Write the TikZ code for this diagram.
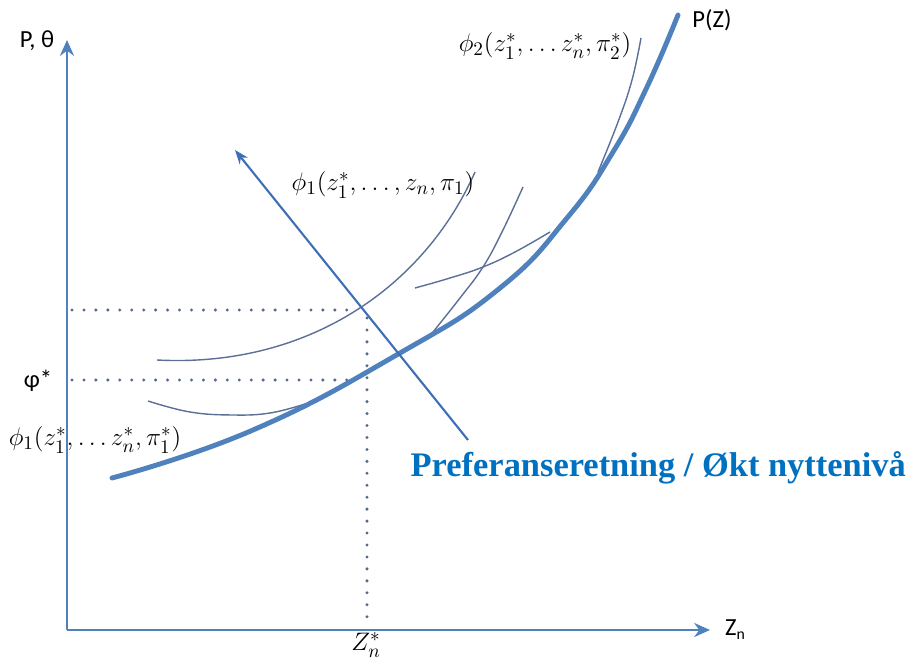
\documentclass[tikz,border=0pt]{standalone}
\usepackage{fontspec}
\usepackage{amsmath}
\usetikzlibrary{arrows.meta}
\newfontfamily\calibri{Carlito}
\newfontfamily\cambria{Liberation Serif}
\definecolor{axisblue}{HTML}{4F81BD}
\definecolor{curvegray}{HTML}{5B6F98}
\definecolor{dotgray}{HTML}{56698C}
\definecolor{prefblue}{HTML}{0070C0}
\definecolor{arrowblue}{HTML}{3E6FB6}

\begin{document}
\begin{tikzpicture}[x=0.02cm, y=-0.02cm, thick,
    axis/.style = {draw=axisblue, line width=1.6pt, -{Stealth[length=9pt, width=8pt]}},
    budget/.style = {draw=axisblue, line width=2.8pt, line cap=round},
    indiff/.style = {draw=curvegray, line width=0.8pt},
    guide/.style = {draw=dotgray, line width=1.9pt, line cap=round, dash pattern=on 0pt off 6.8pt},
    pref/.style = {draw=arrowblue, line width=1.2pt, -{Stealth[length=8pt, width=6pt]}},
    lbl/.style = {font=\calibri\fontsize{14}{16}\selectfont, inner sep=0pt},
    fn/.style = {font=\fontsize{15}{18}\selectfont, inner sep=0pt}]
    \useasboundingbox (0,0) rectangle (907,666);
    % axes
    \coordinate (O) at (67,630);
    \coordinate (ytip) at (67,40);
    \coordinate (xtip) at (710,630);
    \draw[axis] (O) -- (ytip);
    \draw[axis] (O) -- (xtip);
    \node[lbl] (ylab) at (37,41) {P, θ};
    \node[lbl] (xlab) at (735,630) {Z\raisebox{-0.35ex}{\fontsize{9}{10}\selectfont n}};
    % dotted guides
    \coordinate (h1) at (72,310);
    \coordinate (h1e) at (358,310);
    \coordinate (h2) at (72,380);
    \coordinate (h2e) at (352,380);
    \coordinate (v1) at (367,318);
    \coordinate (v1e) at (367,626);
    \draw[guide] (h1) -- (h1e);
    \draw[guide] (h2) -- (h2e);
    \draw[guide] (v1) -- (v1e);
    % indifference curves
    \draw[indiff] plot[smooth, tension=0.7] coordinates {(148,401) (190,412) (233,415) (270,413) (305,404)};
    \draw[indiff] (157,360) .. controls (310,368) and (425,285) .. (475,172);
    \draw[indiff] plot[smooth, tension=0.7] coordinates {(415,288) (450,278) (483,267) (515,252) (550,232)};
    \draw[indiff] plot[smooth, tension=0.7] coordinates {(433,332) (460,298) (483,267) (502,232) (523,187)};
    \draw[indiff] plot[smooth, tension=0.7] coordinates {(598,172) (618,122) (632,80) (641,38)};
    % budget curve
    \draw[budget] plot[smooth, tension=0.8] coordinates {(112,478) (253,430) (400,353) (500,288) (567,218) (613,152) (647,87) (678,15)};
    \node[lbl] (pz) at (712,20) {P(Z)};
    % preference arrow
    \coordinate (aS) at (468,440);
    \coordinate (aE) at (235,150);
    \draw[pref] (aS) -- (aE);
    \node[font=\cambria\bfseries\fontsize{19.6}{22}\selectfont, text=prefblue, inner sep=0pt, anchor=west] (dir) at (410,468) {Preferanseretning / Økt nyttenivå};
    % labels
    \node[lbl] (phis) at (38,381) {φ*};
    \node[fn] (phi2) at (545,46) {$\phi_2(z_1^*,\ldots z_n^*,\pi_2^*)$};
    \node[fn] (phi1) at (383,185) {$\phi_1(z_1^*,\ldots,z_n,\pi_1)$};
    \node[fn] (phi0) at (95,440) {$\phi_1(z_1^*,\ldots z_n^*,\pi_1^*)$};
    \node[fn] (zstar) at (366,645) {$Z_n^*$};
\end{tikzpicture}
\end{document}
